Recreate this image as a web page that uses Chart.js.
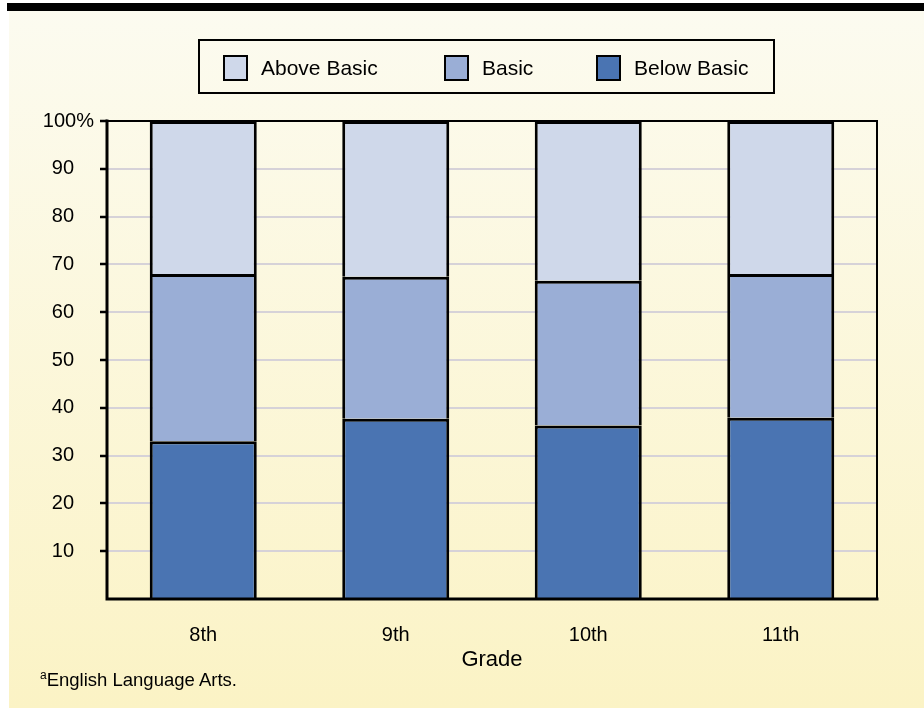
<!DOCTYPE html>
<html>
<head>
<meta charset="utf-8">
<script src="https://cdn.jsdelivr.net/npm/chart.js@4.4.1/dist/chart.umd.min.js"></script>
<style>
  html, body { margin: 0; padding: 0; background: #fff; }
  body { width: 924px; height: 708px; position: relative; overflow: hidden;
         font-family: "Liberation Sans", Arial, Helvetica, sans-serif; color: #000; }
  #topRule { position: absolute; left: 7px; top: 3px; width: 917px; height: 8px; background: #000; }
  #panel { position: absolute; left: 9px; top: 11px; width: 915px; height: 697px;
           background: linear-gradient(#fcfbf0, #fbf3c5); }
  #chartBox { position: absolute; left: 0; top: 0; width: 924px; height: 708px; }
  #legend { position: absolute; left: 198px; top: 39px; width: 573px; height: 51px;
            border: 2.5px solid #000; }
  #legend .item { position: absolute; top: 14px; height: 26px; display: flex; align-items: center;
                  font-size: 21px; white-space: nowrap; }
  #legend .item:nth-child(1) { left: 23px; }
  #legend .item:nth-child(2) { left: 244px; }
  #legend .item:nth-child(3) { left: 396px; }
  #legend .swatch { width: 21px; height: 22px; border: 2px solid #000; margin-right: 13px; }
  #note { position: absolute; left: 40px; top: 669px; font-size: 18.5px; line-height: 22px; }
  #note sup { font-size: 12px; vertical-align: 7px; line-height: 0; }
</style>
</head>
<body>
<div id="topRule"></div>
<div id="panel"></div>
<div id="chartBox"><canvas id="gradeChart" width="924" height="708"></canvas></div>
<div id="legend"></div>
<div id="note"><sup>a</sup>English Language Arts.</div>

<script>
// percent of students per grade
const grades = ['8th', '9th', '10th', '11th'];
const belowBasic = [33.0, 37.7, 36.3, 37.9];
const basic = [35.0, 29.7, 30.3, 30.1];
const aboveBasic = [32.0, 32.6, 33.4, 32.0];
const yTicks = [0, 10, 20, 30, 40, 50, 60, 70, 80, 90, 100];

const seriesNames = ['Below Basic', 'Basic', 'Above Basic'];
const seriesColors = ['#4a74b2', '#9aaed6', '#cfd8ea'];

const fontFamily = '"Liberation Sans", Arial, Helvetica, sans-serif';

// black frame round the plot area, drawn over the bars
const plotFrame = {
    id: 'plotFrame',
    afterDatasetsDraw(chart) {
        const { ctx, chartArea: a } = chart;
        ctx.save();
        ctx.strokeStyle = '#000';
        ctx.lineCap = 'square';
        ctx.lineWidth = 2;
        ctx.beginPath();
        ctx.moveTo(a.left, a.top);
        ctx.lineTo(a.right, a.top);
        ctx.lineTo(a.right, a.bottom);
        ctx.stroke();
        ctx.lineWidth = 3;
        ctx.beginPath();
        ctx.moveTo(a.left, a.top);
        ctx.lineTo(a.left, a.bottom);
        ctx.lineTo(a.right, a.bottom);
        ctx.stroke();
        ctx.restore();
    }
};

const datasets = [belowBasic, basic, aboveBasic].map((values, i) => ({
    label: seriesNames[i],
    data: values,
    backgroundColor: seriesColors[i],
    borderColor: '#000',
    borderWidth: 3,
    barPercentage: 0.556,
    categoryPercentage: 1
}));

new Chart(document.getElementById('gradeChart'), {
    type: 'bar',
    data: { labels: grades, datasets: datasets },
    plugins: [plotFrame],
    options: {
        responsive: false,
        animation: false,
        devicePixelRatio: 1,
        layout: { padding: { top: 121, right: 47, left: 0, bottom: 0 } },
        plugins: {
            legend: { display: false },
            tooltip: { enabled: false }
        },
        scales: {
            x: {
                stacked: true,
                afterFit: s => { s.height = 109; },
                grid: { display: false, drawTicks: false },
                border: { display: false },
                ticks: { padding: 24, color: '#000', font: { family: fontFamily, size: 20 } },
                title: {
                    display: true, text: 'Grade', color: '#000',
                    font: { family: fontFamily, size: 22 },
                    padding: { top: 0, bottom: 35 }
                }
            },
            y: {
                stacked: true,
                min: 0,
                max: 100,
                afterFit: s => { s.width = 107; },
                afterBuildTicks: s => { s.ticks = yTicks.map(v => ({ value: v })); },
                border: { display: false },
                grid: {
                    color: '#d6d2d8',
                    lineWidth: 2,
                    tickLength: 7,
                    tickWidth: 2.5,
                    tickColor: c => (c.tick && c.tick.value === 0) ? 'rgba(0,0,0,0)' : '#000'
                },
                ticks: {
                    padding: 6,
                    color: '#000',
                    font: { family: fontFamily, size: 20 },
                    callback: v => v === 0 ? '' : (v === 100 ? '100%' : v + '\u2003')
                }
            }
        }
    }
});

// legend in the same order as the picture: top segment first
const legendEl = document.getElementById('legend');
[2, 1, 0].forEach(i => {
    const item = document.createElement('div');
    item.className = 'item';
    item.innerHTML = `<span class="swatch" style="background-color: ${seriesColors[i]}"></span><span>${seriesNames[i]}</span>`;
    legendEl.appendChild(item);
});
</script>
</body>
</html>
